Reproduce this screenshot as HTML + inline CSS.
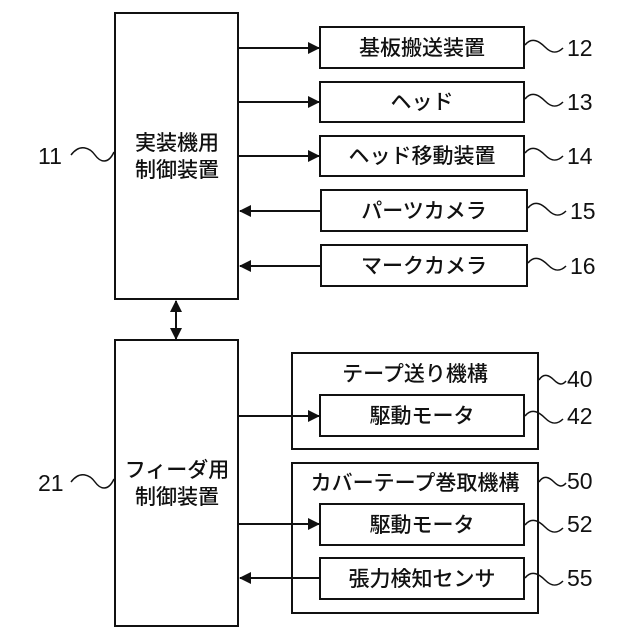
<!DOCTYPE html>
<html><head><meta charset="utf-8"><style>
body{margin:0;background:#fff}
svg{display:block}
text{font-family:"Liberation Sans","Noto Sans CJK JP",sans-serif;fill:#111}
</style></head><body>
<svg width="640" height="640" viewBox="0 0 640 640" xmlns="http://www.w3.org/2000/svg">
<defs>
<marker id="a" markerWidth="12" markerHeight="12" refX="11" refY="6" orient="auto" markerUnits="userSpaceOnUse"><path d="M0,0 L12,6 L0,12 z" fill="#111"/></marker>
</defs>
<g fill="none" stroke="#111" stroke-width="2">
<rect x="115" y="13" width="123" height="286"/>
<rect x="115" y="340" width="123" height="286"/>
<rect x="320" y="27" width="204" height="41"/>
<rect x="320" y="82" width="204" height="40"/>
<rect x="320" y="136" width="204" height="40"/>
<rect x="321" y="190" width="206" height="41"/>
<rect x="321" y="245" width="206" height="41"/>
<rect x="292" y="353" width="246" height="96"/>
<rect x="320" y="395" width="204" height="41"/>
<rect x="292" y="463" width="246" height="150"/>
<rect x="320" y="504" width="204" height="41"/>
<rect x="320" y="558" width="204" height="41"/>
<g marker-end="url(#a)">
<line x1="238" y1="48" x2="319" y2="48"/>
<line x1="238" y1="102" x2="319" y2="102"/>
<line x1="238" y1="156" x2="319" y2="156"/>
<line x1="321" y1="211" x2="240" y2="211"/>
<line x1="321" y1="266" x2="240" y2="266"/>
<line x1="238" y1="416" x2="319" y2="416"/>
<line x1="238" y1="524" x2="319" y2="524"/>
<line x1="320" y1="578" x2="240" y2="578"/>
<line x1="176" y1="320" x2="176" y2="301"/>
<line x1="176" y1="320" x2="176" y2="339"/>
</g>
<g stroke-width="1.5">
<path d="M71,155 C80,143 90,148 95,155 C100,162 108,165 114,152"/>
<path d="M71,482 C80,470 90,475 95,482 C100,489 108,492 114,479"/>
<path d="M525,45 C532,36 540,42 545,47 C550,52 556,55 563,48"/>
<path d="M525,99 C532,90 540,96 545,101 C550,106 556,109 563,102"/>
<path d="M525,153 C532,144 540,150 545,155 C550,160 556,163 563,156"/>
<path d="M528,208 C535,199 543,205 548,210 C553,215 559,218 566,211"/>
<path d="M528,263 C535,254 543,260 548,265 C553,270 559,273 566,266"/>
<path d="M539,380 C544,372 550,376 554,380 C558,384 562,386 566,381"/>
<path d="M525,416 C532,407 540,413 545,418 C550,423 556,426 563,419"/>
<path d="M539,482 C544,474 550,478 554,482 C558,486 562,488 566,483"/>
<path d="M525,525 C532,516 540,522 545,527 C550,532 556,535 563,528"/>
<path d="M525,578 C532,569 540,575 545,580 C550,585 556,588 563,581"/>
</g>
</g>
<g font-size="21" text-anchor="middle" font-weight="500">
<text x="177" y="150">実装機用</text>
<text x="177" y="177">制御装置</text>
<text x="177" y="477">フィーダ用</text>
<text x="177" y="504">制御装置</text>
<text x="422" y="55">基板搬送装置</text>
<text x="422" y="109">ヘッド</text>
<text x="422" y="163">ヘッド移動装置</text>
<text x="424" y="218">パーツカメラ</text>
<text x="424" y="273">マークカメラ</text>
<text x="415" y="381">テープ送り機構</text>
<text x="422" y="423">駆動モータ</text>
<text x="415" y="490">カバーテープ巻取機構</text>
<text x="422" y="532">駆動モータ</text>
<text x="422" y="586">張力検知センサ</text>
</g>
<g font-size="23">
<text x="38" y="164">11</text>
<text x="38" y="491">21</text>
<text x="567" y="56">12</text>
<text x="567" y="110">13</text>
<text x="567" y="164">14</text>
<text x="570" y="219">15</text>
<text x="570" y="274">16</text>
<text x="567" y="387">40</text>
<text x="567" y="424">42</text>
<text x="567" y="489">50</text>
<text x="567" y="532">52</text>
<text x="567" y="586">55</text>
</g>
</svg>
</body></html>
